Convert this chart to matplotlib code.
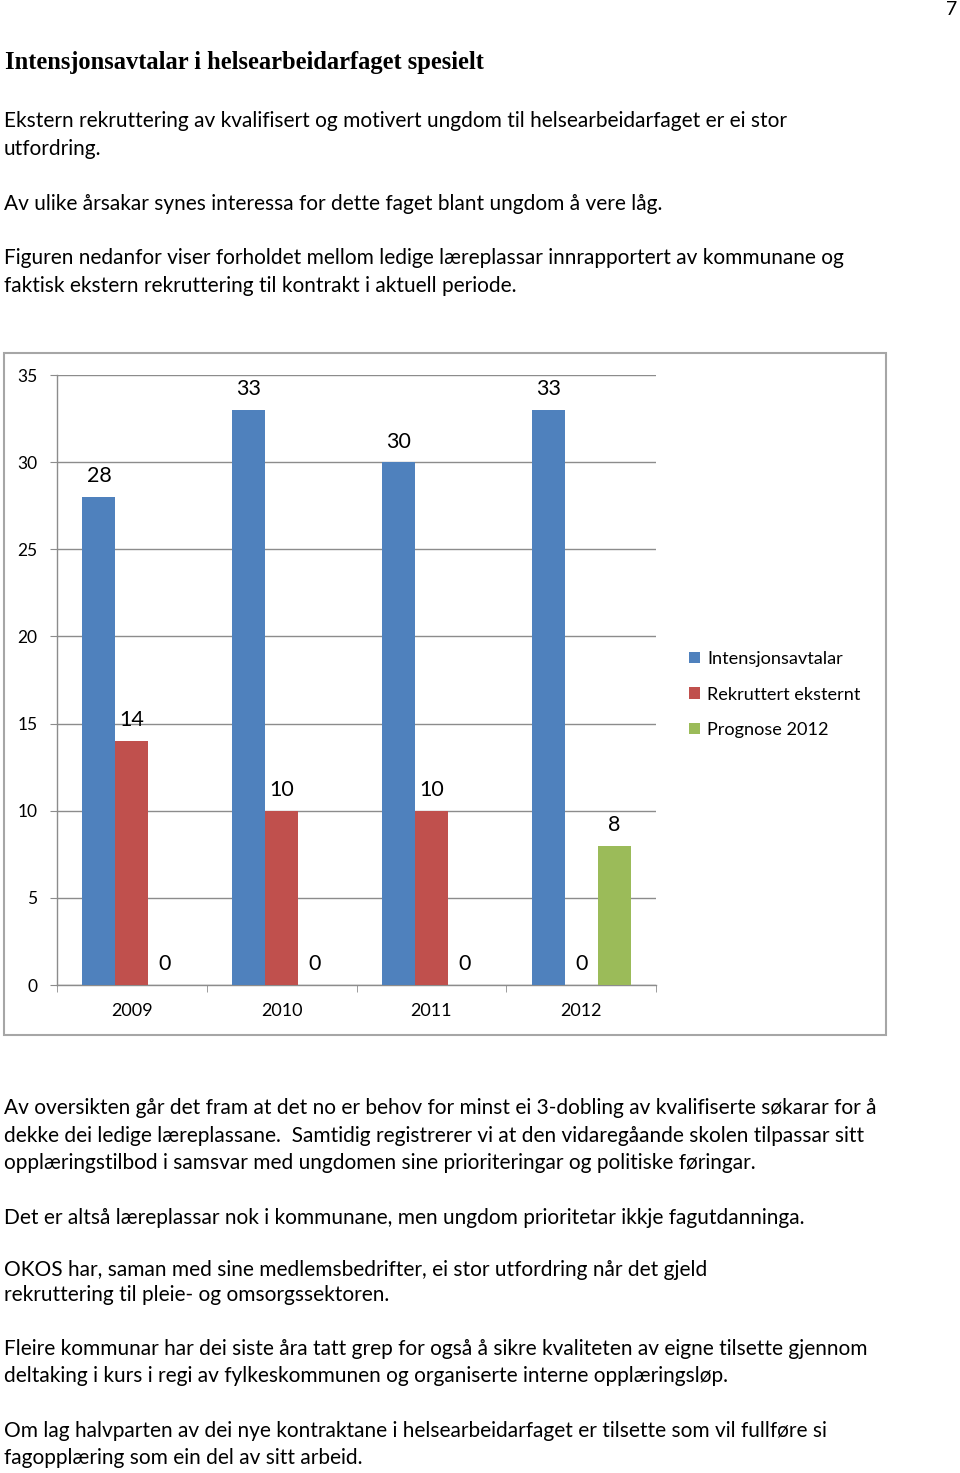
import matplotlib
matplotlib.use("Agg")
import matplotlib.pyplot as plt
from matplotlib.patches import Rectangle
import numpy as np

# ==============================
# DATA
# ==============================

years = ["2009", "2010", "2011", "2012"]
intensjon = [28, 33, 30, 33]
rekruttert = [14, 10, 10, 0]
prognose = [0, 0, 0, 8]
series_names = ["Intensjonsavtalar", "Rekruttert eksternt", "Prognose 2012"]
y_ticks = [0, 5, 10, 15, 20, 25, 30, 35]

heading = "Intensjonsavtalar i helsearbeidarfaget spesielt"
text_top = [
    ("Ekstern rekruttering av kvalifisert og motivert ungdom til helsearbeidarfaget er ei stor", 120),
    ("utfordring.", 148),
    ("Av ulike årsakar synes interessa for dette faget blant ungdom å vere låg.", 203),
    ("Figuren nedanfor viser forholdet mellom ledige læreplassar innrapportert av kommunane og", 257),
    ("faktisk ekstern rekruttering til kontrakt i aktuell periode.", 285),
]
text_bottom = [
    ("Av oversikten går det fram at det no er behov for minst ei 3-dobling av kvalifiserte søkarar for å", 1107),
    ("dekke dei ledige læreplassane.  Samtidig registrerer vi at den vidaregåande skolen tilpassar sitt", 1135),
    ("opplæringstilbod i samsvar med ungdomen sine prioriteringar og politiske føringar.", 1162),
    ("Det er altså læreplassar nok i kommunane, men ungdom prioritetar ikkje fagutdanninga.", 1217),
    ("OKOS har, saman med sine medlemsbedrifter, ei stor utfordring når det gjeld", 1269),
    ("rekruttering til pleie- og omsorgssektoren.", 1294),
    ("Fleire kommunar har dei siste åra tatt grep for også å sikre kvaliteten av eigne tilsette gjennom", 1348),
    ("deltaking i kurs i regi av fylkeskommunen og organiserte interne opplæringsløp.", 1375),
    ("Om lag halvparten av dei nye kontraktane i helsearbeidarfaget er tilsette som vil fullføre si", 1430),
    ("fagopplæring som ein del av sitt arbeid.", 1457),
]

BLUE = "#4F81BD"
RED = "#C0504D"
GREEN = "#9BBB59"
GRID = "#8C8C8C"

W, H = 960, 1473
BODY_FONT = "Lato"
HEAD_FONT = "Liberation Serif"

fig = plt.figure(figsize=(W / 100, H / 100), dpi=100)
renderer = fig.canvas.get_renderer()


def fx(px):
    return px / W


def fy(py):
    return 1 - py / H


def fit_size(text, family, weight, target_px, base=20):
    t = fig.text(0, 0, text, fontsize=base, family=family, weight=weight)
    w = t.get_window_extent(renderer=renderer).width
    t.remove()
    return base * target_px / w


# ==============================
# PAGE TEXT
# ==============================

fig.text(fx(952), fy(15), "7", fontsize=14, family=BODY_FONT, ha="center", va="baseline")

head_size = fit_size(heading, HEAD_FONT, "bold", 480)
fig.text(fx(5), fy(69), heading, fontsize=head_size, family=HEAD_FONT,
         weight="bold", va="baseline")

body_size = fit_size(text_top[3][0], BODY_FONT, "normal", 844)
for line, yc in text_top + text_bottom:
    fig.text(fx(4), fy(yc + 7), line, fontsize=body_size, family=BODY_FONT,
             va="baseline")

# ==============================
# CHART BOX
# ==============================

fig.patches.append(Rectangle((fx(4), fy(1035)), fx(886) - fx(4), fy(353) - fy(1035),
                             transform=fig.transFigure, fill=False,
                             edgecolor="#A6A6A6", linewidth=1.5))

ax = fig.add_axes([fx(57), fy(985), fx(656) - fx(57), fy(375) - fy(985)])

x = np.arange(len(years))
width = 0.22
b1 = ax.bar(x - width, intensjon, width, color=BLUE, label=series_names[0], zorder=3)
b2 = ax.bar(x, rekruttert, width, color=RED, label=series_names[1], zorder=3)
b3 = ax.bar(x + width, prognose, width, color=GREEN, label=series_names[2], zorder=3)

for bars in (b1, b2, b3):
    for rect in bars:
        h = rect.get_height()
        ax.annotate(f"{h:g}", (rect.get_x() + rect.get_width() / 2, h),
                    xytext=(0, 10.5), textcoords="offset points",
                    ha="center", va="baseline", fontsize=15.5, family=BODY_FONT)

ax.set_xlim(-0.5, 3.5)
ax.set_ylim(0, 35)
ax.set_yticks(y_ticks)
ax.set_yticklabels([str(v) for v in y_ticks])
ax.set_xticks(x)
ax.set_xticklabels(years)
ax.set_xticks(np.arange(-0.5, 4.0, 1.0), minor=True)

ax.yaxis.grid(True, color=GRID, linewidth=1.0, zorder=0)
ax.set_axisbelow(True)

for side in ("top", "right"):
    ax.spines[side].set_visible(False)
for side in ("left", "bottom"):
    ax.spines[side].set_color(GRID)
    ax.spines[side].set_linewidth(1.0)

ax.tick_params(axis="y", length=5, color=GRID, pad=9, labelsize=12.5)
ax.tick_params(axis="x", which="major", length=0, pad=13, labelsize=13)
ax.tick_params(axis="x", which="minor", length=5, color=GRID)
for lab in ax.get_xticklabels() + ax.get_yticklabels():
    lab.set_family(BODY_FONT)

fig.legend(handles=[b1, b2, b3], loc="upper left",
           bbox_to_anchor=(fx(680), fy(642)), frameon=False,
           prop={"family": BODY_FONT, "size": 13.1},
           handlelength=0.6, handleheight=0.6, handletextpad=0.4,
           labelspacing=1.07, borderpad=0)

fig.savefig("out.png", dpi=100)
